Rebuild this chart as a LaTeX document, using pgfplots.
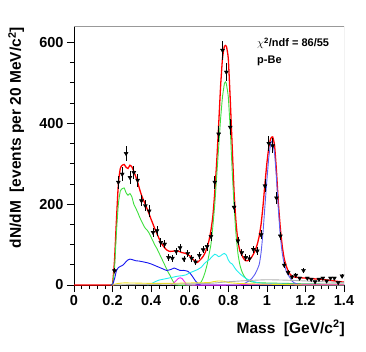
\documentclass[border=0pt]{standalone}
\usepackage{fontspec}
\setmainfont{Liberation Sans}
\usepackage{pgfplots}
\pgfplotsset{compat=1.18}
\definecolor{rgreen}{HTML}{3FDF3F}
\definecolor{rblue}{HTML}{1414F0}
\definecolor{phiblue}{HTML}{5E5EF2}
\definecolor{rcyan}{HTML}{22EEEE}
\definecolor{rmag}{HTML}{F020F0}
\definecolor{ryellow}{HTML}{EEE020}
\definecolor{rgrey}{HTML}{B0B0B0}

\pgfplotstableread{
x y e
0.21 35 6
0.23 254 16
0.25 274 17
0.27 325 18
0.29 266 16
0.31 278 17
0.33 259 16
0.35 208 14
0.37 196 14
0.39 183 14
0.41 130 11
0.43 134 12
0.45 105 10
0.47 101 10
0.49 68 8
0.51 66 8
0.53 83 9
0.55 92 10
0.57 64 8
0.59 78 9
0.61 66 8
0.63 57 8
0.65 73 9
0.67 87 9
0.69 95 10
0.71 120 11
0.73 254 16
0.75 373 19
0.77 580 24
0.79 526 23
0.81 390 20
0.83 192 14
0.85 109 10
0.87 80 9
0.89 68 8
0.91 65 8
0.93 88 9
0.95 84 9
0.97 124 11
0.99 245 16
1.01 350 19
1.03 344 19
1.05 215 15
1.07 121 11
1.09 49 7
1.11 31 6
1.13 20 5
1.15 24 5
1.17 17 4
1.19 36 6
1.21 17 4
1.23 14 4
1.25 8 3
1.27 14 4
1.29 17 4
1.31 10 3
1.33 17 4
1.35 17 4
1.37 6 2
1.39 22 5
}\datatab

\begin{document}
\begin{tikzpicture}
\path[use as bounding box] (-74pt,-66pt) rectangle (292pt,285pt);
\begin{axis}[at={(0,0)}, anchor=south west, scale only axis,
  width=270pt, height=259pt,
  xmin=0, xmax=1.4, ymin=0, ymax=640,
  axis lines*=left, axis line style={line width=0.8pt},
  tick align=outside,
  xtick={0,0.2,0.4,0.6,0.8,1,1.2,1.4}, ytick={0,200,400,600},
  minor x tick num=4, minor y tick num=3,
  major tick length=7pt, minor tick length=4pt,
  tick style={black, line width=0.6pt},
  /pgf/number format/assume math mode=true,
  tick label style={font=\fontsize{14.5}{16}\selectfont\bfseries},
  clip=true]
\addplot[red, line width=1.3pt, smooth, tension=0.3] coordinates {
(0,0) (0.19,0) (0.2,3) (0.21,60) (0.22,160) (0.23,250) (0.24,288) (0.25,296)
(0.26,298) (0.27,291) (0.28,288) (0.29,296) (0.30,292) (0.31,281) (0.32,268)
(0.33,254) (0.34,237) (0.35,222) (0.36,210) (0.37,199) (0.38,187) (0.39,175)
(0.40,162) (0.41,150) (0.42,138) (0.43,127) (0.44,116) (0.45,106) (0.46,98)
(0.47,92) (0.48,87) (0.49,84) (0.50,83) (0.52,84) (0.54,84) (0.56,80)
(0.58,78) (0.60,72) (0.62,62) (0.63,58) (0.64,56) (0.65,60) (0.66,65)
(0.67,71) (0.68,80) (0.69,93) (0.70,110) (0.71,135) (0.72,170) (0.73,230)
(0.74,305) (0.75,395) (0.76,490) (0.77,560) (0.78,590) (0.79,590) (0.80,560)
(0.81,460) (0.82,345) (0.83,230) (0.84,155) (0.85,108) (0.86,85) (0.87,74)
(0.88,65) (0.89,60) (0.90,60) (0.91,63) (0.92,68) (0.93,76) (0.94,86)
(0.95,100) (0.96,120) (0.97,150) (0.98,195) (0.99,250) (1.00,300) (1.01,340)
(1.02,362) (1.03,366) (1.04,345) (1.05,280) (1.06,200) (1.07,140) (1.08,95)
(1.09,65) (1.10,48) (1.11,35) (1.12,27) (1.13,22) (1.15,19) (1.2,17)
(1.25,15) (1.3,13) (1.35,10) (1.4,7)};
\addplot[rgreen, line width=0.9pt, smooth, tension=0.3] coordinates {
(0.19,0) (0.2,2) (0.21,40) (0.22,130) (0.23,200) (0.24,232) (0.25,238)
(0.26,240) (0.27,228) (0.28,222) (0.29,226) (0.30,218) (0.31,200) (0.32,190)
(0.33,180) (0.34,168) (0.35,158) (0.36,148) (0.37,140) (0.38,135) (0.39,128)
(0.40,118) (0.41,108) (0.42,98) (0.43,90) (0.44,80) (0.45,70) (0.46,60)
(0.47,50) (0.48,40) (0.49,30) (0.50,22) (0.51,12) (0.52,4) (0.53,0)
(0.64,0) (0.65,3) (0.66,8) (0.67,18) (0.68,32) (0.69,50) (0.70,75)
(0.71,100) (0.72,145) (0.73,200) (0.74,270) (0.75,340) (0.76,410) (0.77,465)
(0.78,498) (0.785,502) (0.79,497) (0.80,465) (0.81,385) (0.82,285) (0.83,195)
(0.84,125) (0.85,78) (0.86,50) (0.87,34) (0.88,24) (0.89,17) (0.90,12)
(0.92,8) (0.95,6) (1.0,5) (1.1,4) (1.2,3) (1.4,2)};
\addplot[rblue, line width=0.9pt, smooth, tension=0.3] coordinates {
(0.19,0) (0.2,1) (0.21,15) (0.22,35) (0.23,43) (0.24,46) (0.25,48) (0.26,52)
(0.27,58) (0.28,62) (0.29,64) (0.30,63) (0.32,60) (0.34,59) (0.36,57)
(0.38,55) (0.40,52) (0.42,48) (0.44,44) (0.46,40) (0.48,36) (0.50,38)
(0.51,40) (0.52,42) (0.53,40) (0.55,36) (0.57,36) (0.59,34) (0.60,30)
(0.61,24) (0.62,17) (0.63,10) (0.64,5) (0.65,2) (0.67,0) (1.4,0)};
\addplot[phiblue, line width=0.9pt, smooth, tension=0.3] coordinates {
(0.86,0) (0.88,3) (0.90,8) (0.92,15) (0.94,28) (0.96,50) (0.97,80)
(0.98,130) (0.99,195) (1.00,258) (1.01,315) (1.02,350) (1.025,355)
(1.03,350) (1.04,325) (1.05,262) (1.06,185) (1.07,120) (1.08,78) (1.09,52)
(1.10,35) (1.11,25) (1.12,18) (1.13,10) (1.14,6) (1.16,2) (1.2,0) (1.4,0)};
\addplot[rcyan, line width=0.9pt, smooth, tension=0.3] coordinates {
(0.38,0) (0.40,3) (0.42,8) (0.44,12) (0.46,14) (0.48,16) (0.50,18) (0.52,20)
(0.54,22) (0.56,23) (0.58,25) (0.60,30) (0.62,34) (0.64,38) (0.66,44)
(0.68,55) (0.70,62) (0.72,72) (0.73,76) (0.74,74) (0.75,70) (0.76,72)
(0.77,76) (0.78,78) (0.79,74) (0.80,62) (0.81,55) (0.82,52) (0.83,45)
(0.84,38) (0.86,28) (0.88,20) (0.90,14) (0.92,10) (0.95,6) (1.0,3) (1.1,2)
(1.4,1)};
\addplot[rmag, line width=0.9pt, smooth, tension=0.3] coordinates {
(0.50,0) (0.51,2) (0.52,6) (0.53,11) (0.54,16) (0.55,18) (0.56,16) (0.57,10)
(0.58,4) (0.59,0) (0.85,0) (0.9,1.5) (1.4,1.5)};
\addplot[ryellow, line width=0.9pt, smooth, tension=0.3] coordinates {
(0.2,0) (0.22,3) (0.25,5) (0.3,5) (0.4,4) (0.5,4) (0.6,5) (0.7,6) (0.72,8)
(0.75,10) (0.78,9) (0.8,6) (0.85,4) (0.9,3) (1.0,2) (1.1,1) (1.2,0) (1.4,0)};
\addplot[rgrey, line width=0.9pt, smooth, tension=0.3] coordinates {
(0.2,0) (0.3,1) (0.5,2) (0.7,4) (0.8,8) (0.9,11) (1.0,13) (1.1,12) (1.2,10)
(1.3,8) (1.4,6)};
\addplot[black, only marks, mark=triangle*, mark size=2.3pt,
  mark options={rotate=180, fill=black},
  error bars/.cd, y dir=both, y explicit,
  error bar style={black, line width=0.8pt}, error mark=none]
  table[x=x, y=y, y error=e] {\datatab};
\draw[gray!80, line width=0.8pt] (rel axis cs:0,1) -- (rel axis cs:1,1) -- (rel axis cs:1,0);
\end{axis}
\node[anchor=base west, inner sep=0, font=\fontsize{11}{13}\selectfont\bfseries]
  at (183pt,238pt) {$\chi$\textsuperscript{2}/ndf = 86/55};
\node[anchor=base west, inner sep=0, font=\fontsize{11}{13}\selectfont\bfseries]
  at (183pt,221pt) {p-Be};
\node[anchor=base east, inner sep=0, font=\fontsize{15.5}{18}\selectfont\bfseries]
  at (271pt,-48pt) {Mass~~[GeV/c\textsuperscript{2}]};
\node[rotate=90, anchor=base east, inner sep=0, font=\fontsize{15.5}{18}\selectfont\bfseries]
  at (-53pt,258pt) {dN/dM~~[events per 20 MeV/c\textsuperscript{2}]};
\end{tikzpicture}
\end{document}
